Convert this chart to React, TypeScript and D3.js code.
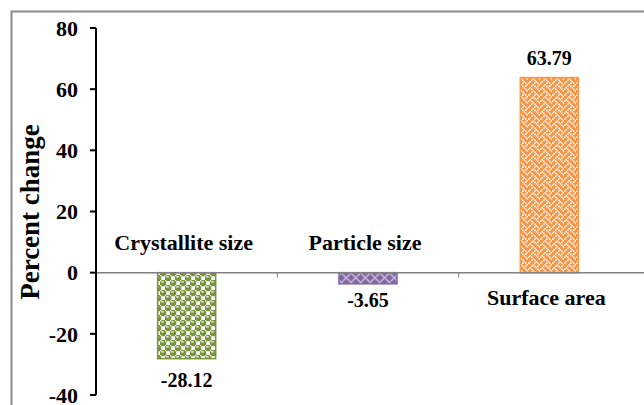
import React from "react";
import * as d3 from "d3";

const categories = ["Crystallite size", "Particle size", "Surface area"];
const values = [-28.12, -3.65, 63.79];
const valueLabels = ["-28.12", "-3.65", "63.79"];
const labelSide = ["above", "above", "below"];
const yTicks = [-40, -20, 0, 20, 40, 60, 80];
const barColors = ["#77933C", "#8064A2", "#F79646"];

// 8x8 hatch bitmaps (Office-style patterns)
const sphereBits = [0x77, 0x98, 0xf8, 0xf8, 0x77, 0x89, 0x8f, 0x8f];
const diamondBits = [0x41, 0x22, 0x14, 0x08, 0x14, 0x22, 0x41, 0x80];
const weaveBits = [0x11, 0x2a, 0x44, 0xa2, 0x11, 0x28, 0x44, 0x8a];

const W = 644;
const H = 405;
const left = 96;
const right = 640;
const top = 28;
const bottom = 395;

function hatchPath(bits: number[], cell: number, wantOn: boolean) {
  let d = "";
  bits.forEach((row, r) => {
    for (let c = 0; c < 8; c++) {
      const on = (row & (0x80 >> c)) !== 0;
      if (on === wantOn) d += `M${c * cell} ${r * cell}h${cell}v${cell}h${-cell}Z`;
    }
  });
  return d;
}

const hatches = [
  { id: "hatchGreen", bits: sphereBits, cell: 1.25, whiteOn: false },
  { id: "hatchPurple", bits: diamondBits, cell: 1.2, whiteOn: true },
  { id: "hatchOrange", bits: weaveBits, cell: 1.5, whiteOn: true },
];

export default function App() {
  const y = d3.scaleLinear().domain([-40, 80]).range([bottom, top]);
  const x = d3.scaleBand<string>().domain(categories).range([left, right]).paddingInner(0.68).paddingOuter(0.34);
  const band = d3.scaleBand<string>().domain(categories).range([left, right]);
  const font = "'Liberation Serif', 'Times New Roman', serif";
  const y0 = y(0);
  return (
    <svg width={W} height={H} style={{ position: "absolute", left: 0, top: 0, background: "#fff" }} fontFamily={font}>
      <defs>
        {hatches.map((h, i) => {
          const size = h.cell * 8;
          return (
            <pattern key={h.id} id={h.id} width={size} height={size} patternUnits="userSpaceOnUse">
              <rect width={size} height={size} fill={barColors[i]} />
              <path d={hatchPath(h.bits, h.cell, h.whiteOn)} fill="#fff" />
            </pattern>
          );
        })}
      </defs>
      <rect x={11.5} y={11.5} width={700} height={500} fill="none" stroke="#8c8c8c" strokeWidth={2} />
      {categories.map((c, i) => {
        const v = values[i];
        const yTop = y(Math.max(0, v));
        const yBot = y(Math.min(0, v));
        return (
          <g key={c}>
            <rect x={x(c)} y={yTop} width={x.bandwidth()} height={yBot - yTop} fill={`url(#${hatches[i].id})`} stroke={barColors[i]} strokeWidth={1.5} />
            <text x={(x(c) as number) + x.bandwidth() / 2} y={v >= 0 ? yTop - 13 : yBot + (v < -10 ? 28 : 23)} textAnchor="middle" fontSize={20} fontWeight="bold">{valueLabels[i]}</text>
            <text x={(band(c) as number) + band.bandwidth() / 2 - 3} y={labelSide[i] === "above" ? y0 - 23 : y0 + 32} textAnchor="middle" fontSize={22} fontWeight="bold">{c}</text>
          </g>
        );
      })}
      <line x1={left} x2={W} y1={y0} y2={y0} stroke="#808080" strokeWidth={1.5} />
      {categories.slice(1).map((c) => (
        <line key={c} x1={band(c)} x2={band(c)} y1={y0} y2={y0 + 5} stroke="#808080" strokeWidth={1} />
      ))}
      <line x1={left} x2={left} y1={top} y2={bottom} stroke="#000" strokeWidth={2} />
      {yTicks.map((t) => (
        <g key={t}>
          <line x1={left - 6} x2={left} y1={y(t)} y2={y(t)} stroke="#000" strokeWidth={2} />
          <text x={left - 18} y={y(t)} dy="0.35em" textAnchor="end" fontSize={22} fontWeight="bold">{t}</text>
        </g>
      ))}
      <text transform={`translate(39, 212) rotate(-90)`} textAnchor="middle" fontSize={27} fontWeight="bold">Percent change</text>
    </svg>
  );
}
